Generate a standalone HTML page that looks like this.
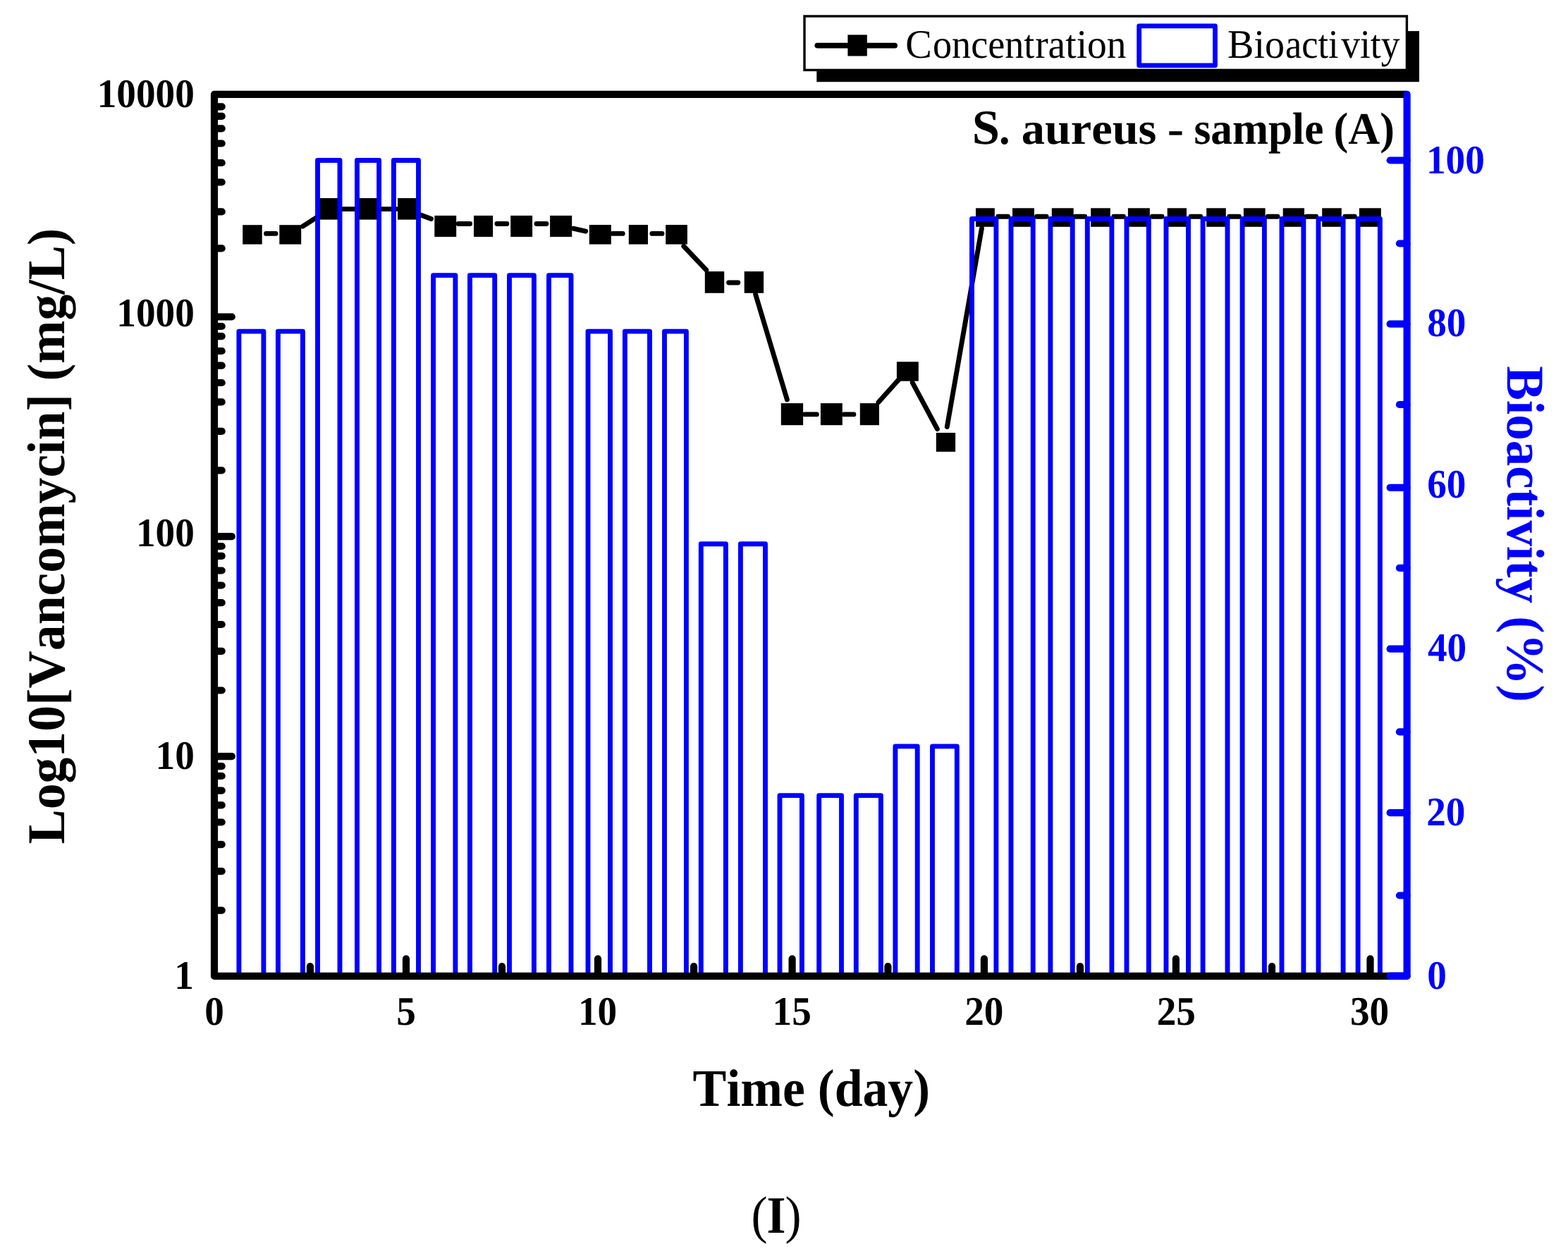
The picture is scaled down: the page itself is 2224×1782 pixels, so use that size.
<!DOCTYPE html>
<html lang="en">
<head>
<meta charset="utf-8">
<title>S. aureus - sample (A): Vancomycin concentration and bioactivity</title>
<style>
html,body{margin:0;padding:0;background:#fff;}
body{width:2224px;height:1782px;overflow:hidden;}
svg{display:block;}
text{white-space:pre;font-kerning:none;font-variant-ligatures:none;text-rendering:geometricPrecision;}
</style>
</head>
<body>
<svg width="2224" height="1782" viewBox="0 0 2224 1782">
<rect width="2224" height="1782" fill="#fff"/>
<g id="legend">
<rect x="1158.3" y="44.1" width="854.7" height="72.1" fill="#000"/>
<rect x="1141.0" y="23.0" width="854.4" height="76.4" fill="#fff" stroke="#000" stroke-width="3.4"/>
<line x1="1159.20" y1="64.60" x2="1269.20" y2="64.60" stroke="#000" stroke-width="7.6" stroke-linecap="round"/>
<rect x="1202.4" y="49.4" width="27.4" height="30.1" fill="#000"/>
<rect x="1615.7" y="36.8" width="107.8" height="56.0" fill="none" stroke="#0000ff" stroke-width="6.8" stroke-linejoin="round"/>
</g>
<g id="series-concentration">
<line x1="377.50" y1="331.40" x2="391.00" y2="331.40" stroke="#000" stroke-width="6.9" stroke-linecap="round"/>
<line x1="429.40" y1="321.10" x2="452.00" y2="306.70" stroke="#000" stroke-width="6.9" stroke-linecap="round"/>
<line x1="481.00" y1="296.60" x2="506.00" y2="296.60" stroke="#000" stroke-width="6.9" stroke-linecap="round"/>
<line x1="537.00" y1="296.60" x2="562.00" y2="296.60" stroke="#000" stroke-width="6.9" stroke-linecap="round"/>
<line x1="592.00" y1="303.20" x2="611.50" y2="310.60" stroke="#000" stroke-width="6.9" stroke-linecap="round"/>
<line x1="650.20" y1="317.50" x2="666.60" y2="317.50" stroke="#000" stroke-width="6.9" stroke-linecap="round"/>
<line x1="704.90" y1="317.50" x2="718.90" y2="317.50" stroke="#000" stroke-width="6.9" stroke-linecap="round"/>
<line x1="761.00" y1="317.50" x2="775.00" y2="317.50" stroke="#000" stroke-width="6.9" stroke-linecap="round"/>
<line x1="813.00" y1="324.20" x2="830.70" y2="328.10" stroke="#000" stroke-width="6.9" stroke-linecap="round"/>
<line x1="869.00" y1="331.40" x2="883.20" y2="331.40" stroke="#000" stroke-width="6.9" stroke-linecap="round"/>
<line x1="924.90" y1="331.40" x2="939.00" y2="331.40" stroke="#000" stroke-width="6.9" stroke-linecap="round"/>
<line x1="969.80" y1="349.30" x2="1001.80" y2="383.20" stroke="#000" stroke-width="6.9" stroke-linecap="round"/>
<line x1="1033.60" y1="401.00" x2="1046.80" y2="401.00" stroke="#000" stroke-width="6.9" stroke-linecap="round"/>
<line x1="1071.60" y1="417.40" x2="1116.40" y2="567.00" stroke="#000" stroke-width="6.9" stroke-linecap="round"/>
<line x1="1141.50" y1="587.90" x2="1158.30" y2="587.90" stroke="#000" stroke-width="6.9" stroke-linecap="round"/>
<line x1="1197.20" y1="587.90" x2="1210.90" y2="587.90" stroke="#000" stroke-width="6.9" stroke-linecap="round"/>
<line x1="1245.90" y1="570.70" x2="1275.10" y2="538.20" stroke="#000" stroke-width="6.9" stroke-linecap="round"/>
<line x1="1294.20" y1="542.90" x2="1329.40" y2="608.60" stroke="#000" stroke-width="6.9" stroke-linecap="round"/>
<line x1="1343.30" y1="605.50" x2="1392.40" y2="324.20" stroke="#000" stroke-width="6.9" stroke-linecap="round"/>
<line x1="1415.80" y1="307.30" x2="1429.45" y2="307.30" stroke="#000" stroke-width="6.9" stroke-linecap="round"/>
<line x1="1470.45" y1="307.30" x2="1484.10" y2="307.30" stroke="#000" stroke-width="6.9" stroke-linecap="round"/>
<line x1="1525.10" y1="307.30" x2="1538.75" y2="307.30" stroke="#000" stroke-width="6.9" stroke-linecap="round"/>
<line x1="1579.75" y1="307.30" x2="1593.40" y2="307.30" stroke="#000" stroke-width="6.9" stroke-linecap="round"/>
<line x1="1634.40" y1="307.30" x2="1648.05" y2="307.30" stroke="#000" stroke-width="6.9" stroke-linecap="round"/>
<line x1="1689.05" y1="307.30" x2="1702.70" y2="307.30" stroke="#000" stroke-width="6.9" stroke-linecap="round"/>
<line x1="1743.70" y1="307.30" x2="1757.35" y2="307.30" stroke="#000" stroke-width="6.9" stroke-linecap="round"/>
<line x1="1798.35" y1="307.30" x2="1812.00" y2="307.30" stroke="#000" stroke-width="6.9" stroke-linecap="round"/>
<line x1="1853.00" y1="307.30" x2="1866.65" y2="307.30" stroke="#000" stroke-width="6.9" stroke-linecap="round"/>
<line x1="1907.65" y1="307.30" x2="1921.30" y2="307.30" stroke="#000" stroke-width="6.9" stroke-linecap="round"/>
<rect x="344.20" y="319.20" width="27.50" height="27.40" fill="#000"/>
<rect x="396.30" y="319.20" width="30.90" height="27.40" fill="#000"/>
<rect x="452.00" y="281.10" width="28.00" height="30.50" fill="#000"/>
<rect x="508.00" y="281.10" width="28.00" height="30.50" fill="#000"/>
<rect x="564.00" y="281.10" width="28.00" height="30.50" fill="#000"/>
<rect x="616.30" y="305.90" width="30.90" height="30.10" fill="#000"/>
<rect x="672.00" y="305.90" width="27.10" height="30.10" fill="#000"/>
<rect x="724.20" y="305.90" width="30.90" height="30.10" fill="#000"/>
<rect x="780.10" y="305.90" width="31.10" height="30.10" fill="#000"/>
<rect x="835.80" y="319.00" width="31.00" height="27.60" fill="#000"/>
<rect x="891.80" y="319.00" width="27.20" height="27.60" fill="#000"/>
<rect x="944.20" y="319.00" width="30.70" height="27.60" fill="#000"/>
<rect x="999.80" y="385.10" width="27.40" height="30.70" fill="#000"/>
<rect x="1055.70" y="385.10" width="27.40" height="30.70" fill="#000"/>
<rect x="1107.80" y="572.10" width="31.30" height="31.10" fill="#000"/>
<rect x="1163.90" y="572.10" width="30.90" height="31.10" fill="#000"/>
<rect x="1219.80" y="572.10" width="27.10" height="31.10" fill="#000"/>
<rect x="1271.90" y="513.30" width="30.90" height="27.40" fill="#000"/>
<rect x="1327.80" y="614.00" width="27.30" height="26.90" fill="#000"/>
<rect x="1384.00" y="295.30" width="26.80" height="26.50" fill="#000"/>
<rect x="1436.00" y="295.30" width="30.90" height="26.50" fill="#000"/>
<rect x="1491.80" y="295.30" width="30.90" height="26.50" fill="#000"/>
<rect x="1547.20" y="295.30" width="27.60" height="26.50" fill="#000"/>
<rect x="1599.90" y="295.30" width="30.90" height="26.50" fill="#000"/>
<rect x="1655.70" y="295.30" width="27.30" height="26.50" fill="#000"/>
<rect x="1711.20" y="295.30" width="27.60" height="26.50" fill="#000"/>
<rect x="1763.90" y="295.30" width="30.70" height="26.50" fill="#000"/>
<rect x="1819.70" y="295.30" width="30.30" height="26.50" fill="#000"/>
<rect x="1875.20" y="295.30" width="27.60" height="26.50" fill="#000"/>
<rect x="1927.90" y="295.30" width="30.90" height="26.50" fill="#000"/>
</g>
<g id="series-bioactivity" fill="none" stroke="#0000ff" stroke-width="6.9" stroke-linejoin="round">
<path d="M338.90,1384.90 V470.10 H373.90 V1384.90"/>
<path d="M394.40,1384.90 V470.10 H429.40 V1384.90"/>
<path d="M450.50,1384.90 V227.50 H482.00 V1384.90"/>
<path d="M506.50,1384.90 V227.50 H537.60 V1384.90"/>
<path d="M558.40,1384.90 V227.50 H593.50 V1384.90"/>
<path d="M614.60,1384.90 V390.60 H645.90 V1384.90"/>
<path d="M666.50,1384.90 V390.60 H701.70 V1384.90"/>
<path d="M722.50,1384.90 V390.60 H757.40 V1384.90"/>
<path d="M778.50,1384.90 V390.60 H810.00 V1384.90"/>
<path d="M834.00,1384.90 V470.10 H865.50 V1384.90"/>
<path d="M886.40,1384.90 V470.10 H921.50 V1384.90"/>
<path d="M942.50,1384.90 V470.10 H973.40 V1384.90"/>
<path d="M994.30,1384.90 V771.70 H1029.40 V1384.90"/>
<path d="M1050.40,1384.90 V771.70 H1085.50 V1384.90"/>
<path d="M1106.00,1384.90 V1128.60 H1137.40 V1384.90"/>
<path d="M1161.70,1384.90 V1128.60 H1193.50 V1384.90"/>
<path d="M1214.30,1384.90 V1128.60 H1249.40 V1384.90"/>
<path d="M1269.90,1384.90 V1058.90 H1301.20 V1384.90"/>
<path d="M1322.50,1384.90 V1058.90 H1357.30 V1384.90"/>
<path d="M1378.50,1384.90 V310.50 H1412.90 V1384.90"/>
<path d="M1434.00,1384.90 V310.50 H1465.20 V1384.90"/>
<path d="M1489.90,1384.90 V310.50 H1521.20 V1384.90"/>
<path d="M1542.30,1384.90 V310.50 H1576.90 V1384.90"/>
<path d="M1598.00,1384.90 V310.50 H1629.30 V1384.90"/>
<path d="M1654.00,1384.90 V310.50 H1685.50 V1384.90"/>
<path d="M1706.10,1384.90 V310.50 H1741.00 V1384.90"/>
<path d="M1762.10,1384.90 V310.50 H1793.40 V1384.90"/>
<path d="M1818.00,1384.90 V310.50 H1848.90 V1384.90"/>
<path d="M1870.00,1384.90 V310.50 H1905.10 V1384.90"/>
<path d="M1926.10,1384.90 V310.50 H1957.40 V1384.90"/>
</g>
<g id="axes-black">
<path d="M1995.60,133.80 H304.00 V1384.90 H1995.60" fill="none" stroke="#000" stroke-width="10.2" stroke-linejoin="round"/>
<line x1="304.00" y1="449.50" x2="328.80" y2="449.50" stroke="#000" stroke-width="10.2" stroke-linecap="round"/>
<line x1="304.00" y1="761.10" x2="328.80" y2="761.10" stroke="#000" stroke-width="10.2" stroke-linecap="round"/>
<line x1="304.00" y1="1073.20" x2="328.80" y2="1073.20" stroke="#000" stroke-width="10.2" stroke-linecap="round"/>
<line x1="304.00" y1="151.30" x2="314.70" y2="151.30" stroke="#000" stroke-width="10.2" stroke-linecap="round"/>
<line x1="304.00" y1="164.90" x2="314.70" y2="164.90" stroke="#000" stroke-width="10.2" stroke-linecap="round"/>
<line x1="304.00" y1="182.40" x2="314.70" y2="182.40" stroke="#000" stroke-width="10.2" stroke-linecap="round"/>
<line x1="304.00" y1="203.50" x2="314.70" y2="203.50" stroke="#000" stroke-width="10.2" stroke-linecap="round"/>
<line x1="304.00" y1="231.00" x2="314.70" y2="231.00" stroke="#000" stroke-width="10.2" stroke-linecap="round"/>
<line x1="304.00" y1="258.50" x2="314.70" y2="258.50" stroke="#000" stroke-width="10.2" stroke-linecap="round"/>
<line x1="304.00" y1="300.40" x2="314.70" y2="300.40" stroke="#000" stroke-width="10.2" stroke-linecap="round"/>
<line x1="304.00" y1="352.40" x2="314.70" y2="352.40" stroke="#000" stroke-width="10.2" stroke-linecap="round"/>
<line x1="304.00" y1="463.00" x2="314.70" y2="463.00" stroke="#000" stroke-width="10.2" stroke-linecap="round"/>
<line x1="304.00" y1="477.10" x2="314.70" y2="477.10" stroke="#000" stroke-width="10.2" stroke-linecap="round"/>
<line x1="304.00" y1="498.00" x2="314.70" y2="498.00" stroke="#000" stroke-width="10.2" stroke-linecap="round"/>
<line x1="304.00" y1="518.70" x2="314.70" y2="518.70" stroke="#000" stroke-width="10.2" stroke-linecap="round"/>
<line x1="304.00" y1="543.00" x2="314.70" y2="543.00" stroke="#000" stroke-width="10.2" stroke-linecap="round"/>
<line x1="304.00" y1="570.40" x2="314.70" y2="570.40" stroke="#000" stroke-width="10.2" stroke-linecap="round"/>
<line x1="304.00" y1="611.90" x2="314.70" y2="611.90" stroke="#000" stroke-width="10.2" stroke-linecap="round"/>
<line x1="304.00" y1="667.40" x2="314.70" y2="667.40" stroke="#000" stroke-width="10.2" stroke-linecap="round"/>
<line x1="304.00" y1="775.00" x2="314.70" y2="775.00" stroke="#000" stroke-width="10.2" stroke-linecap="round"/>
<line x1="304.00" y1="788.80" x2="314.70" y2="788.80" stroke="#000" stroke-width="10.2" stroke-linecap="round"/>
<line x1="304.00" y1="809.50" x2="314.70" y2="809.50" stroke="#000" stroke-width="10.2" stroke-linecap="round"/>
<line x1="304.00" y1="830.50" x2="314.70" y2="830.50" stroke="#000" stroke-width="10.2" stroke-linecap="round"/>
<line x1="304.00" y1="855.10" x2="314.70" y2="855.10" stroke="#000" stroke-width="10.2" stroke-linecap="round"/>
<line x1="304.00" y1="886.00" x2="314.70" y2="886.00" stroke="#000" stroke-width="10.2" stroke-linecap="round"/>
<line x1="304.00" y1="923.90" x2="314.70" y2="923.90" stroke="#000" stroke-width="10.2" stroke-linecap="round"/>
<line x1="304.00" y1="979.50" x2="314.70" y2="979.50" stroke="#000" stroke-width="10.2" stroke-linecap="round"/>
<line x1="304.00" y1="1087.10" x2="314.70" y2="1087.10" stroke="#000" stroke-width="10.2" stroke-linecap="round"/>
<line x1="304.00" y1="1101.00" x2="314.70" y2="1101.00" stroke="#000" stroke-width="10.2" stroke-linecap="round"/>
<line x1="304.00" y1="1121.60" x2="314.70" y2="1121.60" stroke="#000" stroke-width="10.2" stroke-linecap="round"/>
<line x1="304.00" y1="1142.40" x2="314.70" y2="1142.40" stroke="#000" stroke-width="10.2" stroke-linecap="round"/>
<line x1="304.00" y1="1166.50" x2="314.70" y2="1166.50" stroke="#000" stroke-width="10.2" stroke-linecap="round"/>
<line x1="304.00" y1="1198.10" x2="314.70" y2="1198.10" stroke="#000" stroke-width="10.2" stroke-linecap="round"/>
<line x1="304.00" y1="1236.10" x2="314.70" y2="1236.10" stroke="#000" stroke-width="10.2" stroke-linecap="round"/>
<line x1="304.00" y1="1291.60" x2="314.70" y2="1291.60" stroke="#000" stroke-width="10.2" stroke-linecap="round"/>
<line x1="576.00" y1="1384.90" x2="576.00" y2="1360.30" stroke="#000" stroke-width="10.2" stroke-linecap="round"/>
<line x1="848.00" y1="1384.90" x2="848.00" y2="1360.30" stroke="#000" stroke-width="10.2" stroke-linecap="round"/>
<line x1="1123.60" y1="1384.90" x2="1123.60" y2="1360.30" stroke="#000" stroke-width="10.2" stroke-linecap="round"/>
<line x1="1395.90" y1="1384.90" x2="1395.90" y2="1360.30" stroke="#000" stroke-width="10.2" stroke-linecap="round"/>
<line x1="1667.90" y1="1384.90" x2="1667.90" y2="1360.30" stroke="#000" stroke-width="10.2" stroke-linecap="round"/>
<line x1="1943.50" y1="1384.90" x2="1943.50" y2="1360.30" stroke="#000" stroke-width="10.2" stroke-linecap="round"/>
<line x1="439.90" y1="1384.90" x2="439.90" y2="1371.00" stroke="#000" stroke-width="10.2" stroke-linecap="round"/>
<line x1="712.00" y1="1384.90" x2="712.00" y2="1371.00" stroke="#000" stroke-width="10.2" stroke-linecap="round"/>
<line x1="984.10" y1="1384.90" x2="984.10" y2="1371.00" stroke="#000" stroke-width="10.2" stroke-linecap="round"/>
<line x1="1259.40" y1="1384.90" x2="1259.40" y2="1371.00" stroke="#000" stroke-width="10.2" stroke-linecap="round"/>
<line x1="1532.00" y1="1384.90" x2="1532.00" y2="1371.00" stroke="#000" stroke-width="10.2" stroke-linecap="round"/>
<line x1="1804.00" y1="1384.90" x2="1804.00" y2="1371.00" stroke="#000" stroke-width="10.2" stroke-linecap="round"/>
</g>
<g id="axis-blue">
<line x1="1995.60" y1="133.80" x2="1995.60" y2="1384.90" stroke="#0000ff" stroke-width="10.2" stroke-linecap="round"/>
<line x1="1995.60" y1="227.50" x2="1971.60" y2="227.50" stroke="#0000ff" stroke-width="10.2" stroke-linecap="round"/>
<line x1="1995.60" y1="459.70" x2="1971.60" y2="459.70" stroke="#0000ff" stroke-width="10.2" stroke-linecap="round"/>
<line x1="1995.60" y1="691.80" x2="1971.60" y2="691.80" stroke="#0000ff" stroke-width="10.2" stroke-linecap="round"/>
<line x1="1995.60" y1="920.70" x2="1971.60" y2="920.70" stroke="#0000ff" stroke-width="10.2" stroke-linecap="round"/>
<line x1="1995.60" y1="1153.10" x2="1971.60" y2="1153.10" stroke="#0000ff" stroke-width="10.2" stroke-linecap="round"/>
<line x1="1995.60" y1="1384.70" x2="1971.60" y2="1384.70" stroke="#0000ff" stroke-width="10.2" stroke-linecap="round"/>
<line x1="1995.60" y1="345.50" x2="1984.90" y2="345.50" stroke="#0000ff" stroke-width="10.2" stroke-linecap="round"/>
<line x1="1995.60" y1="574.00" x2="1984.90" y2="574.00" stroke="#0000ff" stroke-width="10.2" stroke-linecap="round"/>
<line x1="1995.60" y1="805.80" x2="1984.90" y2="805.80" stroke="#0000ff" stroke-width="10.2" stroke-linecap="round"/>
<line x1="1995.60" y1="1038.30" x2="1984.90" y2="1038.30" stroke="#0000ff" stroke-width="10.2" stroke-linecap="round"/>
<line x1="1995.60" y1="1270.50" x2="1984.90" y2="1270.50" stroke="#0000ff" stroke-width="10.2" stroke-linecap="round"/>
</g>
<g id="labels" font-family='"Liberation Serif", "DejaVu Serif", serif'>
<text transform="translate(137.73,151.90) scale(0.9590,1)" font-size="57.6" font-weight="bold" fill="#000">10000</text>
<text transform="translate(165.35,462.90) scale(0.9590,1)" font-size="57.6" font-weight="bold" fill="#000">1000</text>
<text transform="translate(192.97,774.90) scale(0.9590,1)" font-size="57.6" font-weight="bold" fill="#000">100</text>
<text transform="translate(220.59,1090.80) scale(0.9590,1)" font-size="57.6" font-weight="bold" fill="#000">10</text>
<text transform="translate(247.17,1402.50) scale(0.9590,1)" font-size="57.6" font-weight="bold" fill="#000">1</text>
<text transform="translate(290.19,1454.40) scale(0.9590,1)" font-size="57.6" font-weight="bold" fill="#000">0</text>
<text transform="translate(562.19,1454.40) scale(0.9590,1)" font-size="57.6" font-weight="bold" fill="#000">5</text>
<text transform="translate(819.99,1454.40) scale(0.9590,1)" font-size="57.6" font-weight="bold" fill="#000">10</text>
<text transform="translate(1095.59,1454.40) scale(0.9590,1)" font-size="57.6" font-weight="bold" fill="#000">15</text>
<text transform="translate(1368.18,1454.40) scale(0.9590,1)" font-size="57.6" font-weight="bold" fill="#000">20</text>
<text transform="translate(1640.68,1454.40) scale(0.9590,1)" font-size="57.6" font-weight="bold" fill="#000">25</text>
<text transform="translate(1914.88,1454.40) scale(0.9590,1)" font-size="57.6" font-weight="bold" fill="#000">30</text>
<text transform="translate(2022.98,245.50) scale(0.9590,1)" font-size="57.6" font-weight="bold" fill="#0000ff">100</text>
<text transform="translate(2024.17,477.00) scale(0.9590,1)" font-size="57.6" font-weight="bold" fill="#0000ff">80</text>
<text transform="translate(2024.17,706.00) scale(0.9590,1)" font-size="57.6" font-weight="bold" fill="#0000ff">60</text>
<text transform="translate(2024.90,938.20) scale(0.9590,1)" font-size="57.6" font-weight="bold" fill="#0000ff">40</text>
<text transform="translate(2023.17,1170.60) scale(0.9590,1)" font-size="57.6" font-weight="bold" fill="#0000ff">20</text>
<text transform="translate(2024.17,1403.00) scale(0.9590,1)" font-size="57.6" font-weight="bold" fill="#0000ff">0</text>
<text transform="translate(982.58,1568.90) scale(0.9584,1)" font-size="74.8" font-weight="bold" fill="#000">Time (day)</text>
<text y="204.10" font-size="64.0" font-weight="bold" fill="#000"><tspan x="1378.89" font-size="69.5" textLength="39.27" lengthAdjust="spacingAndGlyphs">S</tspan><tspan x="1417.07" font-size="64.0" textLength="15.47" lengthAdjust="spacingAndGlyphs">.</tspan> <tspan x="1448.83" font-size="64.0" textLength="191.51" lengthAdjust="spacingAndGlyphs">aureus</tspan> <tspan x="1655.71" font-size="64.0" textLength="23.32" lengthAdjust="spacingAndGlyphs">-</tspan> <tspan x="1693.54" font-size="64.0" textLength="183.80" lengthAdjust="spacingAndGlyphs">sample</tspan> <tspan x="1891.45" font-size="64.0" textLength="86.50" lengthAdjust="spacingAndGlyphs">(A)</tspan></text>
<text y="81.70" font-size="57.5" font-weight="normal" fill="#000"><tspan x="1284.34" font-size="57.5" textLength="37.52" lengthAdjust="spacingAndGlyphs">C</tspan><tspan x="1323.01" font-size="57.5" textLength="144.31" lengthAdjust="spacingAndGlyphs">oncent</tspan><tspan x="1468.13" font-size="57.5" textLength="129.47" lengthAdjust="spacingAndGlyphs">ration</tspan></text>
<text y="81.70" font-size="57.5" font-weight="normal" fill="#000"><tspan x="1741.02" font-size="57.5" textLength="80.93" lengthAdjust="spacingAndGlyphs">Bio</tspan><tspan x="1822.97" font-size="57.5" textLength="75.47" lengthAdjust="spacingAndGlyphs">acti</tspan><tspan x="1902.20" font-size="57.5" textLength="83.30" lengthAdjust="spacingAndGlyphs">vity</tspan></text>
<text transform="translate(91.40,1197.45) rotate(-90) scale(0.9759,1)" font-size="75.5" font-weight="bold" fill="#000">Log10[Vancomycin] (mg/L)</text>
<text transform="translate(2138.40,519.16) rotate(90) scale(0.9680,1)" font-size="75.5" font-weight="bold" fill="#0000ff">Bioactivity (%)</text>
<text transform="translate(1065.4,1748.7) scale(0.93,1)" font-size="74.5" fill="#000"><tspan font-weight="normal">(</tspan><tspan font-weight="bold" dx="-1">I</tspan><tspan font-weight="normal" dx="-1">)</tspan></text>
</g>
</svg>
</body>
</html>
